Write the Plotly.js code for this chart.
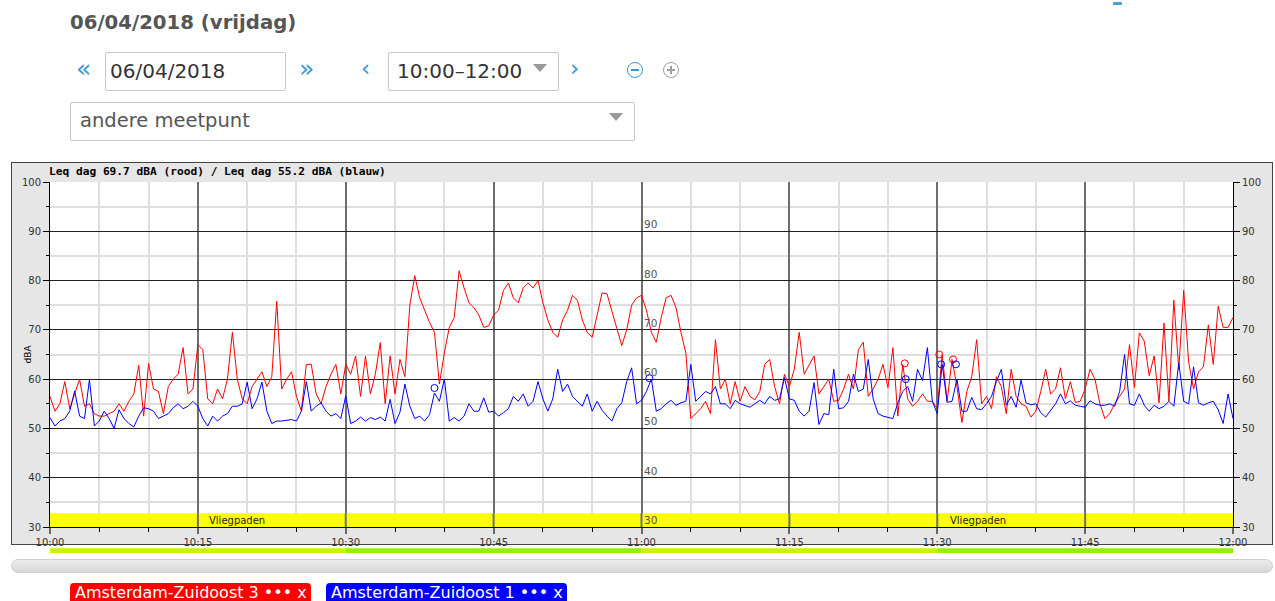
<!DOCTYPE html>
<html>
<head>
<meta charset="utf-8">
<script src="https://cdn.plot.ly/plotly-3.0.1.min.js"></script>
<style>
  html, body { margin:0; padding:0; background:#fff; }
  body { width:1275px; height:601px; overflow:hidden; position:relative; font-family:'DejaVu Sans', sans-serif; }
  .a { position:absolute; white-space:nowrap; line-height:1; }
  .box { position:absolute; box-sizing:border-box; border:1px solid #c8c8c8; background:#fff; border-radius:2px; }
  .tri { position:absolute; width:0; height:0; border-left:7px solid transparent; border-right:7px solid transparent; border-top:8px solid #9a9a9a; }
  .blue { color:#3b97d3; }
  .badge { position:absolute; top:583px; height:24px; width:241px; border-radius:4px; color:#fff; font-size:16px; line-height:1; box-sizing:border-box; padding-left:5px; padding-top:2px; }
</style>
</head>
<body>
<div class="a" style="left:1113px;top:2px;width:9px;height:3px;background:#4a9fd5;border-radius:1px;"></div>

<div class="a" style="left:70px;top:13px;font-size:19.7px;font-weight:bold;color:#555;">06/04/2018 (vrijdag)</div>

<div class="a blue" style="left:76px;top:56px;font-size:25px;">&laquo;</div>
<div class="box" style="left:105px;top:52px;width:181px;height:39px;"></div>
<div class="a" style="left:110px;top:61px;font-size:20px;color:#333;">06/04/2018</div>
<div class="a blue" style="left:299px;top:56px;font-size:25px;">&raquo;</div>

<div class="a blue" style="left:361px;top:57px;font-size:23px;">&lsaquo;</div>
<div class="box" style="left:388px;top:52px;width:171px;height:39px;"></div>
<div class="a" style="left:397px;top:61px;font-size:20px;color:#333;">10:00–12:00</div>
<div class="tri" style="left:533px;top:64px;"></div>
<div class="a blue" style="left:570px;top:57px;font-size:23px;">&rsaquo;</div>

<div class="a" style="left:627px;top:62px;width:16px;height:16px;box-sizing:border-box;border:1.5px solid #3b97d3;border-radius:50%;"></div>
<div class="a" style="left:631px;top:69.3px;width:8px;height:1.5px;background:#3b97d3;"></div>
<div class="a" style="left:663px;top:62px;width:16px;height:16px;box-sizing:border-box;border:1.5px solid #a0a0a0;border-radius:50%;"></div>
<div class="a" style="left:667px;top:69.3px;width:8px;height:1.5px;background:#a0a0a0;"></div>
<div class="a" style="left:670.3px;top:66px;width:1.5px;height:8px;background:#a0a0a0;"></div>

<div class="box" style="left:70px;top:102px;width:565px;height:39px;"></div>
<div class="a" style="left:80px;top:111px;font-size:19.5px;color:#555;">andere meetpunt</div>
<div class="tri" style="left:609px;top:113px;"></div>

<div class="a" style="left:11px;top:162px;width:1262px;height:383px;box-sizing:border-box;border:1px solid #444;background:#e6e6e6;"></div>
<div id="chart" class="a" style="left:11px;top:162px;width:1262px;height:394px;"></div>

<div class="a" style="left:11px;top:559px;width:1262px;height:14px;box-sizing:border-box;border:1px solid #cfcfcf;border-radius:7px;background:linear-gradient(#ececec,#d6d6d6);"></div>

<div class="badge" style="left:70px;background:#ff0000;">Amsterdam-Zuidoost 3 &bull;&bull;&bull; x</div>
<div class="badge" style="left:326px;background:#0000ff;">Amsterdam-Zuidoost 1 &bull;&bull;&bull; x</div>

<script>
// ---- data (sampled every 0.5 min from 10:00 to 12:00) ----
const stepMinutes = 0.5;

const redValues = [
  56.5,53.5,55,59.5,54,57,60,54.5,55,53,
  52.5,52.5,53,53.5,55,53.5,55.5,57,62.8,52.5,
  63.2,58,57.5,53,58.5,60,61,66.4,57,58,
  67,66,56,55,58,56,60,69.5,60,56,
  55,58.5,60,61.5,58.5,60.5,75.8,58,60,61.5,
  56.5,53.5,63,63,57,55,58.5,61,63,57,
  63,61,64.7,56.5,64.7,57,61,67.4,55,64.7,
  57,64,60.5,75,81,76.5,74,71.5,69.5,59,
  65.3,70.5,72.5,82,78.5,75.5,74.5,73,70.5,70.8,
  73,74,78,79.5,76.5,75.5,78.5,79.5,78.5,80,
  75.5,72,69.5,68.5,72,74,77,76,72,69.5,
  68.5,73,77.5,77.3,74,70.3,66.8,70,75,76.5,
  77,74,69.5,67.5,72.5,76.5,77,74.5,69.5,65.3,
  52,53,54,55.5,53,68,58,60,55,59.5,
  55.5,58.5,56.5,55.8,57.5,63,64,58.5,55,61,
  58.5,62,69.5,61,63,64.7,57,58.5,60,55.5,
  55.7,58,61,58,66,67.5,56.5,58,60,63,
  58.3,66.4,52.5,63,56,54.5,55.5,57,55.5,55.5,
  54,65,55.5,64,58.5,51.2,57.5,60.5,68,55,
  56.5,54,60.5,58.5,53,62,56.5,55,54.5,52.3,
  53.5,57.5,62,57,58,62.3,56,59.5,55.3,55.5,
  58,62,60,55,52,53,55,56.5,58,67,
  58.3,69.4,67.7,60.7,64.7,55.2,71.4,55.5,76,62,
  78,63.5,58,61.5,62.5,71,63,74.8,70.5,70.5,
  72.5
];

const blueValues = [
  52.2,50.5,51.5,52,53.5,57.6,52.5,52,59.9,50.5,
  51.5,53.5,52,50,53.8,52,51,50.3,52.5,54.2,
  54,53.5,52,52.5,53,54.2,55,54,54.5,55.5,
  54.5,52,50.5,52.5,51.5,52.5,53,54.5,54.5,55,
  59.4,54,56,59.4,53.5,51,51.5,51.5,51.7,51.8,
  51.5,53.5,59.5,53.5,54.5,55.2,53.5,52.5,53,52,
  56.6,51,51.5,52.3,51.5,52.2,51.8,52.3,51.5,55.9,
  51,53.3,59,54.5,52,52.5,51.5,52.8,57.2,55.5,
  60,51.5,52.2,51.5,52.5,55,53.5,53.5,56.2,53.3,
  53.5,52.5,53.2,54,56.5,55.5,57,54.5,55.5,59.5,
  56,53.5,56,62,57.5,59,56.5,55.5,54.5,57,
  53.5,55.5,53.7,52.5,51.5,54,55.2,59.5,62.3,55,
  55.7,57.5,60,53.5,54,55,55.7,54.7,55.2,55.5,
  63,55.5,56.5,57.5,57,58.5,55,55,54,55.7,
  55,54.7,54.3,55,55.7,55,56.5,55.7,56,60.3,
  56,55.7,53.5,52.5,53.5,59.3,50.8,53,52.8,62,
  54,54.2,55.5,61,57.5,58,64,56,53,52.5,
  52.3,52,55.2,57.5,58.5,55.5,62,59.7,66.4,55.5,
  53,63,55.3,55.5,60,53.5,53.5,56.3,54,53.8,
  55,56.5,59.5,62,54.7,56.5,54.3,59.8,55.2,54.8,
  55,53.2,52.3,53.6,55,57,55,55.6,54.7,54.5,
  54.3,55.6,55,54.7,54.7,55,54.5,57.5,65,55,
  54.7,57,54.7,53.5,54.7,54,54.5,55.5,54.5,63.3,
  55.5,55,62.5,55.2,54.7,55.2,55.5,53.8,51,57,
  52
];

// event markers (minutes after 10:00, dBA)
const redMarkMinutes = [86.7, 90.2, 91.6];
const redMarkValues = [63.2, 65, 64];
const blueMarkMinutes = [39, 60.8, 86.8, 90.4, 91.9];
const blueMarkValues = [58.2, 60.2, 60, 63, 63];

// axis ticks
const xTickMinutes = [0, 15, 30, 45, 60, 75, 90, 105, 120];
const xTickLabels = ['10:00','10:15','10:30','10:45','11:00','11:15','11:30','11:45','12:00'];
const xMinorMinutes = [5,10,20,25,35,40,50,55,65,70,80,85,95,100,110,115];
const yMajorGrid = [40, 50, 60, 70, 80, 90];
const yMinorGrid = [35, 45, 55, 65, 75, 85, 95];
const midAxisLabels = [30, 40, 50, 60, 70, 80, 90];

// "Vliegpaden" band and labels
const bandTop = 32.8;
const vliegLabelMinutes = [19.0, 94.1];
const vliegLabelText = ['Vliegpaden', 'Vliegpaden'];

// colour bar under the axis (periods of 30 min)
const periodStart = [0, 30, 60, 90];
const periodEnd = [30, 60, 90, 120];
const periodColor = ['#c8f500', '#92f200', '#c8f500', '#92f200'];

const headerText = 'Leq dag 69.7 dBA (rood) / Leq dag 55.2 dBA (blauw)';

// ---- build ----
const minutes = redValues.map((_, i) => i * stepMinutes);
const minutesB = blueValues.map((_, i) => i * stepMinutes);

const traces = [
  {x: minutes, y: redValues, type:'scatter', mode:'lines', line:{color:'#ff0000', width:1}, hoverinfo:'skip'},
  {x: minutesB, y: blueValues, type:'scatter', mode:'lines', line:{color:'#0000ff', width:1}, hoverinfo:'skip'},
  {x: redMarkMinutes, y: redMarkValues, type:'scatter', mode:'markers', marker:{symbol:'circle-open', size:7, color:'#ff0000', line:{width:1}}, hoverinfo:'skip'},
  {x: blueMarkMinutes, y: blueMarkValues, type:'scatter', mode:'markers', marker:{symbol:'circle-open', size:7, color:'#0000ff', line:{width:1}}, hoverinfo:'skip'},
  {x: minutesB, y: blueValues, yaxis:'y2', type:'scatter', mode:'lines', line:{width:0}, opacity:0, hoverinfo:'skip'},
  {x: minutesB, y: blueValues, yaxis:'y3', type:'scatter', mode:'lines', line:{width:0}, opacity:0, hoverinfo:'skip'}
];

const shapes = [
  {type:'rect', xref:'x', yref:'y', x0:0, x1:120, y0:30, y1:bandTop, fillcolor:'#ffff00', line:{width:0}, layer:'between'}
];
xTickMinutes.slice(1, -1).forEach(m => shapes.push({
  type:'line', xref:'x', yref:'y', x0:m, x1:m, y0:30, y1:bandTop, line:{color:'#6e6e6e', width:2}, layer:'between'
}));
for (let i = 0; i < periodStart.length; i++) {
  shapes.push({type:'rect', xref:'x', yref:'paper', x0:periodStart[i], x1:periodEnd[i], y0:-0.0615, y1:-0.0755,
    fillcolor:periodColor[i], line:{width:0}, layer:'above'});
}

const annotations = [
  {xref:'paper', yref:'paper', x:0, y:1, xanchor:'left', yanchor:'middle', xshift:-3, yshift:11, showarrow:false,
   text:'<b>' + headerText + '</b>', font:{family:'DejaVu Sans Mono', size:11.2, color:'#000'}},
  {xref:'paper', yref:'paper', x:0, y:0.5, xshift:-30, showarrow:false, textangle:-90,
   text:'dBA', font:{size:9, color:'#000'}}
];
midAxisLabels.forEach(v => annotations.push({
  xref:'x', yref:'y', x:60, y:v, xanchor:'left', yanchor:'bottom', xshift:0, yshift:-1, showarrow:false,
  text:String(v), font:{size:10.5, color:'#555'}
}));
vliegLabelMinutes.forEach((m, i) => annotations.push({
  xref:'x', yref:'y', x:m, y:(30 + bandTop) / 2, showarrow:false, text:vliegLabelText[i],
  font:{size:10, color:'#222'}
}));

const layout = {
  width:1262, height:394,
  margin:{l:39, r:40, t:20, b:29, pad:0},
  paper_bgcolor:'rgba(0,0,0,0)',
  plot_bgcolor:'#ffffff',
  showlegend:false,
  font:{family:'DejaVu Sans', size:10, color:'#333'},
  xaxis:{
    range:[0,120], tickmode:'array', tickvals:xTickMinutes, ticktext:xTickLabels,
    ticks:'outside', ticklen:6, tickwidth:2, tickcolor:'#666',
    showgrid:true, gridcolor:'#6e6e6e', gridwidth:2,
    showline:true, linecolor:'#000', linewidth:1, zeroline:false, fixedrange:true,
    minor:{tickmode:'array', tickvals:xMinorMinutes, ticks:'outside', ticklen:4, tickcolor:'#000', tickwidth:1,
           showgrid:true, gridcolor:'#dedede', gridwidth:2}
  },
  yaxis:{
    range:[30,100], tickmode:'linear', tick0:30, dtick:10,
    ticks:'outside', ticklen:6, tickcolor:'#000', tickwidth:1,
    showgrid:false, showline:true, linecolor:'#000', linewidth:1, zeroline:false, fixedrange:true,
    minor:{tickmode:'array', tickvals:yMinorGrid, ticks:'outside', ticklen:3, tickcolor:'#000', showgrid:true, gridcolor:'#dedede', gridwidth:2}
  },
  yaxis2:{
    overlaying:'y', side:'right', anchor:'x', range:[30,100], tickmode:'linear', tick0:30, dtick:10,
    ticks:'outside', ticklen:6, tickcolor:'#000', showgrid:false, showline:true, linecolor:'#000', linewidth:1,
    zeroline:false, fixedrange:true,
    minor:{tickmode:'array', tickvals:yMinorGrid, ticks:'outside', ticklen:3, tickcolor:'#000', showgrid:false}
  },
  yaxis3:{
    overlaying:'y', side:'left', anchor:'x', range:[30,100], tickmode:'array', tickvals:yMajorGrid,
    showticklabels:false, ticks:'', showgrid:true, gridcolor:'#222', gridwidth:1.2, showline:false,
    zeroline:false, fixedrange:true
  },
  shapes:shapes,
  annotations:annotations
};

Plotly.newPlot('chart', traces, layout, {staticPlot:true, displayModeBar:false});
</script>
</body>
</html>
